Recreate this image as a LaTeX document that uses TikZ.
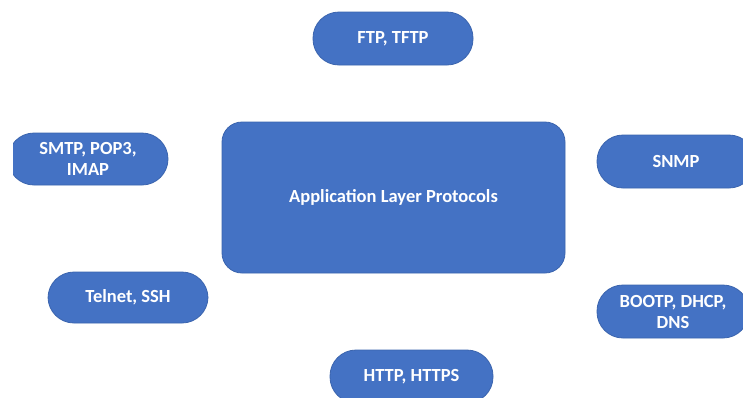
\documentclass[tikz,border=0pt]{standalone}
\usepackage{fontspec}
\setmainfont{Carlito}
\definecolor{boxblue}{HTML}{4472C4}
\definecolor{boxedge}{HTML}{3A64AE}
\begin{document}
\begin{tikzpicture}[x=1pt,y=-1pt,
  box/.style={fill=boxblue, draw=boxedge, line width=0.8pt, text=white,
    font=\fontsize{18.5}{21}\selectfont\bfseries, align=center, inner sep=0pt},
  pill/.style={box, rounded corners=26pt},
  hub/.style={box, rounded corners=20pt}]
  \useasboundingbox[fill=white] (0,0) rectangle (743,397);
  \clip (13,0) rectangle (743,397);
  % central box
  \node[hub, minimum width=343pt, minimum height=151pt] (app) at (393.5,197.5)
    {Application Layer Protocols};
  % protocol groups around it
  \node[pill, minimum width=160pt, minimum height=53pt] (ftp) at (393,38.5) {FTP, TFTP};
  \node[pill, minimum width=160pt, minimum height=52pt] (mail) at (88,159) {SMTP, POP3,\\IMAP};
  \node[pill, minimum width=158pt, minimum height=53pt] (snmp) at (676,161.5) {SNMP};
  \node[pill, minimum width=160pt, minimum height=51pt] (telnet) at (128,297.5) {Telnet, SSH};
  \node[pill, minimum width=152pt, minimum height=53pt] (boot) at (673,311.5) {BOOTP, DHCP,\\DNS};
  \node[pill, minimum width=163pt, minimum height=53pt] (http) at (411.5,376.5) {HTTP, HTTPS};
\end{tikzpicture}
\end{document}
